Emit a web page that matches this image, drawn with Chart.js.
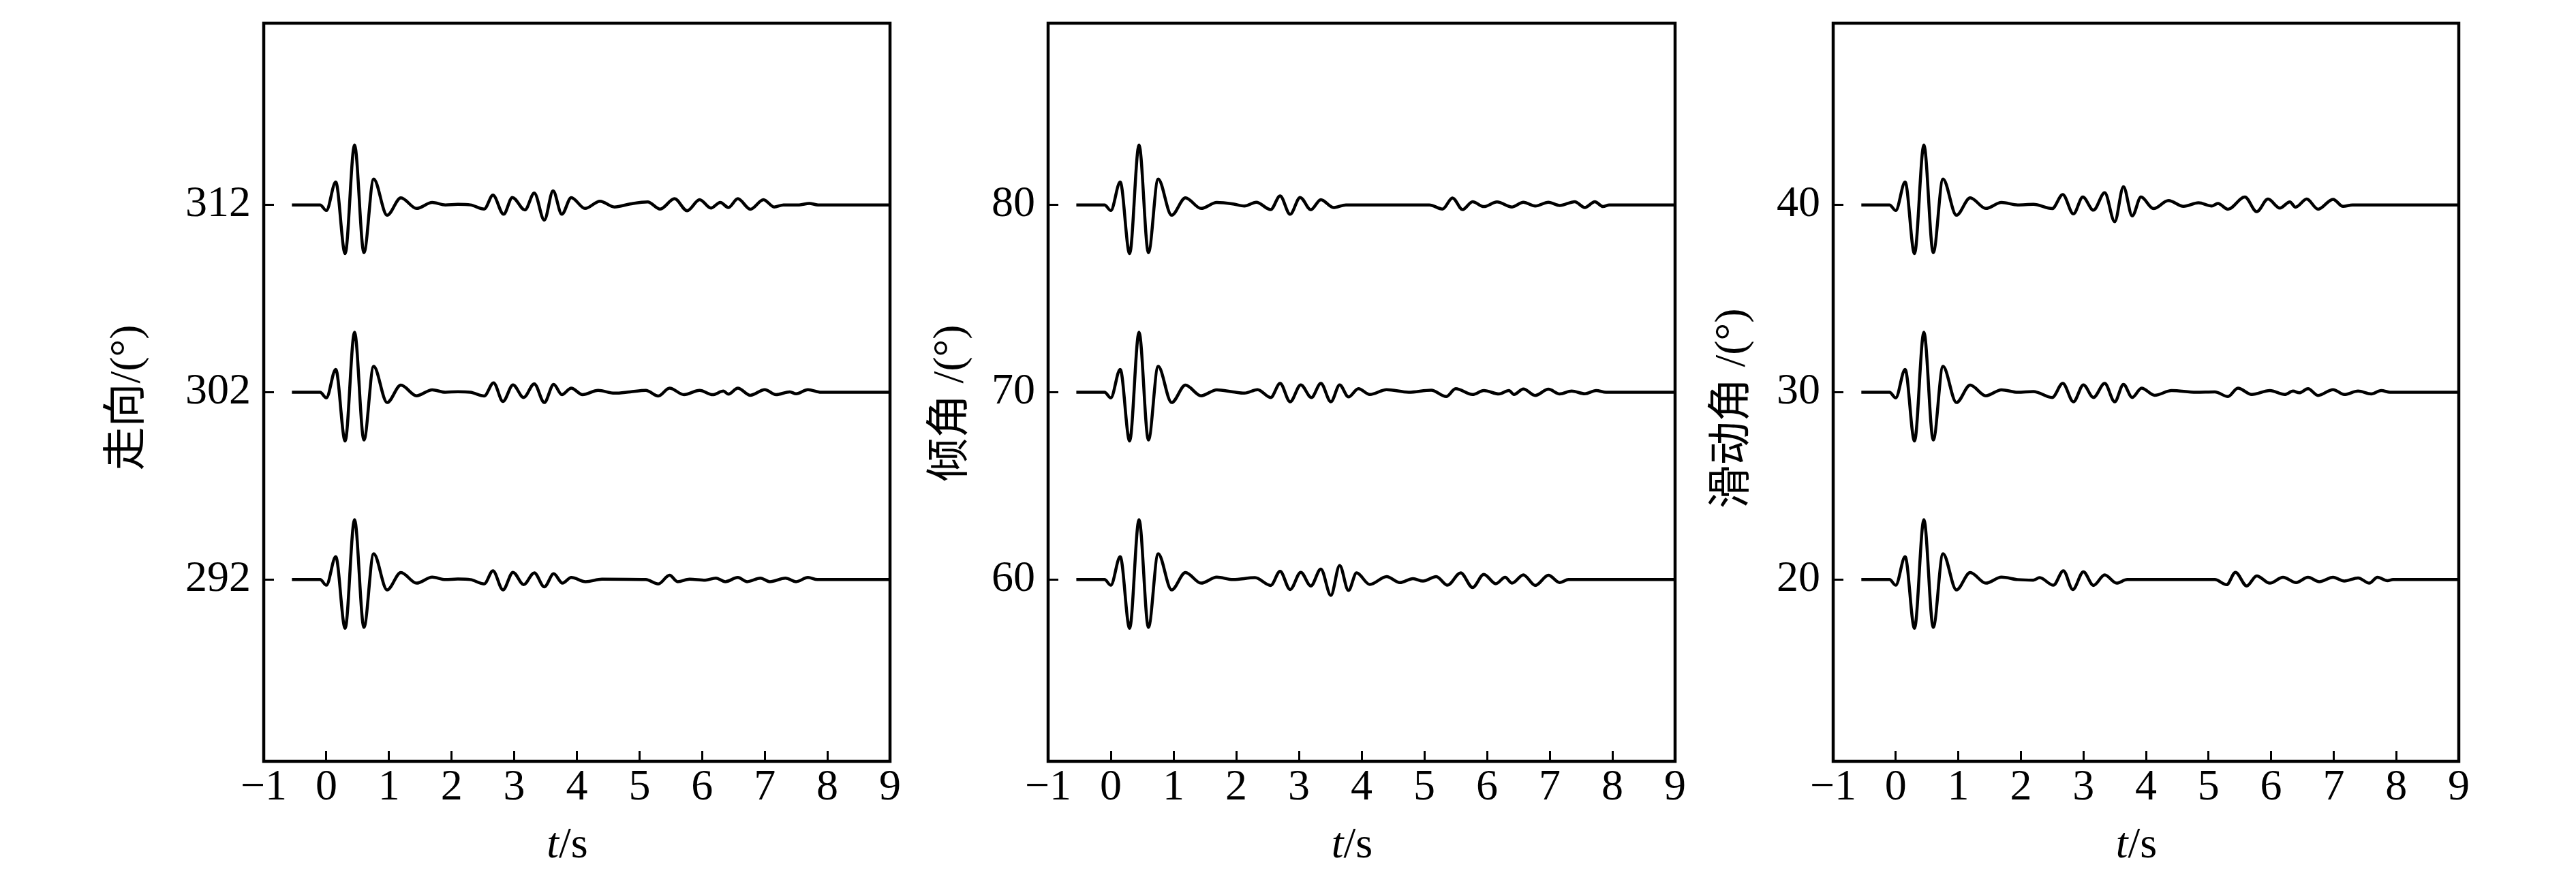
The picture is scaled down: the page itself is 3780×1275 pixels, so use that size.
<!DOCTYPE html>
<html>
<head>
<meta charset="utf-8">
<script src="https://cdn.jsdelivr.net/npm/chart.js@4.4.1/dist/chart.umd.min.js"></script>
<style>
  html, body { margin: 0; padding: 0; background: #fff; }
  body { width: 3780px; height: 1275px; position: relative; overflow: hidden; }
  .panel { position: absolute; top: 0; height: 1275px; }
</style>
</head>
<body>
<div class="panel" style="left:0;width:1330px"><canvas id="strikeChart"></canvas></div>
<div class="panel" style="left:1330px;width:1150px"><canvas id="dipChart"></canvas></div>
<div class="panel" style="left:2480px;width:1300px"><canvas id="rakeChart"></canvas></div>
<script>
// time axis
const xTicks = [-1, 0, 1, 2, 3, 4, 5, 6, 7, 8, 9];

// source wavelet shared by every trace (offset from the trace baseline)
const headT = [-0.55, -0.1, 0.0, 0.15, 0.30, 0.45, 0.60, 0.755, 0.97, 1.19, 1.44, 1.69];
const headA = [0, 0, -0.3, 1.22, -2.6, 3.2, -2.55, 1.38, -0.55, 0.38, -0.19, 0.13];

// strike panel
const strikeTicks = [292, 302, 312];
const strikeRange = [282.3, 321.7];
const strike312T = [1.9, 2.1, 2.3, 2.52, 2.66, 2.83, 2.97, 3.17, 3.32, 3.48, 3.62, 3.76, 3.91, 4.13, 4.37, 4.6, 4.85, 5.13, 5.33, 5.56, 5.76, 5.96, 6.14, 6.29, 6.42, 6.57, 6.77, 6.98, 7.15, 7.3, 7.55, 7.71, 7.85, 9];
const strike312A = [0, 0.03, 0, -0.22, 0.52, -0.5, 0.4, -0.27, 0.63, -0.81, 0.75, -0.5, 0.39, -0.19, 0.2, -0.11, 0.05, 0.16, -0.22, 0.33, -0.31, 0.28, -0.17, 0.13, -0.14, 0.33, -0.23, 0.28, -0.11, 0, 0, 0.08, 0, 0];
const strike302T = [1.9, 2.1, 2.3, 2.52, 2.67, 2.82, 2.98, 3.15, 3.32, 3.48, 3.63, 3.76, 3.91, 4.09, 4.34, 4.6, 4.85, 5.1, 5.3, 5.48, 5.71, 5.96, 6.17, 6.34, 6.42, 6.57, 6.77, 7.0, 7.18, 7.4, 7.5, 7.69, 7.9, 9];
const strike302A = [0, 0.03, 0, -0.2, 0.5, -0.49, 0.39, -0.28, 0.45, -0.55, 0.42, -0.13, 0.22, -0.13, 0.1, -0.05, 0.02, 0.1, -0.2, 0.22, -0.13, 0.1, -0.13, 0.06, -0.1, 0.22, -0.16, 0.14, -0.13, 0.02, -0.08, 0.14, 0, 0];
const strike292T = [1.9, 2.1, 2.3, 2.52, 2.66, 2.82, 2.98, 3.15, 3.32, 3.48, 3.63, 3.77, 3.91, 4.14, 4.4, 5.1, 5.3, 5.48, 5.61, 5.8, 6.05, 6.22, 6.37, 6.57, 6.72, 6.93, 7.08, 7.33, 7.5, 7.69, 7.84, 9];
const strike292A = [0, 0.03, 0, -0.23, 0.47, -0.55, 0.39, -0.27, 0.36, -0.39, 0.31, -0.19, 0.11, -0.11, 0.02, 0, -0.23, 0.23, -0.11, 0.02, -0.03, 0.08, -0.11, 0.11, -0.11, 0.08, -0.11, 0.08, -0.11, 0.11, 0, 0];

// dip panel
const dipTicks = [60, 70, 80];
const dipRange = [50.3, 89.7];
const dip80T = [1.95, 2.13, 2.32, 2.55, 2.70, 2.86, 3.02, 3.19, 3.35, 3.55, 3.75, 5.08, 5.29, 5.45, 5.61, 5.77, 5.95, 6.16, 6.4, 6.58, 6.77, 6.98, 7.16, 7.4, 7.56, 7.72, 7.85, 7.95, 9];
const dip80A = [0.05, -0.06, 0.14, -0.25, 0.48, -0.5, 0.4, -0.26, 0.28, -0.14, 0, 0, -0.22, 0.37, -0.25, 0.17, -0.09, 0.16, -0.11, 0.14, -0.06, 0.14, -0.03, 0.17, -0.14, 0.17, -0.09, 0, 0];
const dip70T = [1.95, 2.13, 2.34, 2.55, 2.70, 2.86, 3.03, 3.2, 3.35, 3.51, 3.65, 3.79, 3.95, 4.13, 4.4, 4.75, 5.11, 5.35, 5.5, 5.77, 5.95, 6.19, 6.35, 6.43, 6.58, 6.77, 6.98, 7.16, 7.35, 7.56, 7.74, 7.9, 9];
const dip70A = [0.02, -0.05, 0.14, -0.28, 0.47, -0.51, 0.39, -0.28, 0.47, -0.51, 0.39, -0.25, 0.19, -0.12, 0.14, 0, 0.11, -0.23, 0.19, -0.12, 0.09, -0.09, 0.09, -0.12, 0.17, -0.17, 0.16, -0.09, 0.06, -0.08, 0.09, 0, 0];
const dip60T = [1.95, 2.3, 2.55, 2.70, 2.86, 3.03, 3.19, 3.35, 3.51, 3.65, 3.79, 3.92, 4.13, 4.4, 4.61, 4.82, 4.98, 5.19, 5.37, 5.58, 5.77, 5.95, 6.14, 6.29, 6.4, 6.58, 6.77, 6.98, 7.16, 7.3, 9];
const dip60A = [0, 0.1, -0.31, 0.44, -0.53, 0.39, -0.34, 0.56, -0.84, 0.75, -0.58, 0.36, -0.26, 0.16, -0.16, 0.05, -0.08, 0.16, -0.3, 0.36, -0.42, 0.28, -0.22, 0.12, -0.19, 0.25, -0.31, 0.23, -0.16, 0, 0];

// rake panel
const rakeTicks = [20, 30, 40];
const rakeRange = [10.3, 49.7];
const rake40T = [1.95, 2.2, 2.5, 2.67, 2.84, 2.99, 3.16, 3.34, 3.5, 3.64, 3.78, 3.92, 4.12, 4.36, 4.6, 4.84, 5.05, 5.15, 5.31, 5.58, 5.77, 5.95, 6.14, 6.3, 6.39, 6.57, 6.75, 6.99, 7.15, 7.3, 9];
const rake40A = [0, 0.03, -0.2, 0.55, -0.48, 0.42, -0.28, 0.65, -0.9, 0.97, -0.59, 0.42, -0.2, 0.23, -0.08, 0.11, -0.06, 0.08, -0.23, 0.42, -0.36, 0.31, -0.17, 0.16, -0.12, 0.31, -0.23, 0.3, -0.08, 0, 0];
const rake30T = [1.95, 2.2, 2.5, 2.67, 2.84, 3.0, 3.16, 3.34, 3.5, 3.64, 3.78, 3.93, 4.14, 4.41, 4.8, 5.1, 5.31, 5.47, 5.69, 5.98, 6.22, 6.35, 6.45, 6.59, 6.75, 6.99, 7.17, 7.39, 7.6, 7.76, 7.9, 9];
const rake30A = [0, 0.04, -0.28, 0.47, -0.51, 0.39, -0.28, 0.47, -0.51, 0.42, -0.28, 0.22, -0.16, 0.09, 0, 0.02, -0.23, 0.22, -0.12, 0.09, -0.12, 0.06, -0.03, 0.19, -0.17, 0.14, -0.12, 0.06, -0.09, 0.09, 0, 0];
const rake20T = [1.95, 2.2, 2.3, 2.52, 2.68, 2.83, 3.0, 3.16, 3.34, 3.53, 3.7, 5.1, 5.29, 5.43, 5.61, 5.77, 5.98, 6.19, 6.4, 6.59, 6.77, 6.99, 7.17, 7.39, 7.57, 7.7, 7.86, 7.95, 9];
const rake20A = [0, -0.03, 0.1, -0.3, 0.47, -0.53, 0.41, -0.31, 0.25, -0.19, 0, 0, -0.27, 0.39, -0.34, 0.2, -0.19, 0.12, -0.16, 0.12, -0.11, 0.12, -0.08, 0.09, -0.19, 0.12, -0.06, 0, 0];

const FAMILY = "'Liberation Serif', 'Noto Sans CJK SC', serif";

// wavelet + tail, shifted to the trace baseline
function buildTrace(base, tailT, tailA) {
    const head = headT.map((t, i) => ({ x: t, y: base + headA[i] }));
    const tail = tailT.map((t, i) => ({ x: t, y: base + tailA[i] }));
    return head.concat(tail);
}

// box round the plot area
const framePlugin = {
    id: 'frame',
    afterDatasetsDraw(chart) {
        const { ctx, chartArea: a } = chart;
        ctx.save();
        ctx.strokeStyle = '#000';
        ctx.lineWidth = 4.5;
        ctx.strokeRect(a.left, a.top, a.right - a.left, a.bottom - a.top);
        ctx.restore();
    }
};

// "t/s" with italic t
const timeTitlePlugin = {
    id: 'timeTitle',
    afterDraw(chart) {
        const { ctx, chartArea: a } = chart;
        ctx.save();
        ctx.fillStyle = '#000';
        ctx.textBaseline = 'alphabetic';
        ctx.textAlign = 'left';
        ctx.font = 'italic 64px ' + FAMILY;
        const w1 = ctx.measureText('t').width;
        ctx.font = '64px ' + FAMILY;
        const w2 = ctx.measureText('/s').width;
        const x0 = (a.left + a.right) / 2 - 14 - (w1 + w2) / 2;
        const y = chart.scales.x.bottom - 17;
        ctx.font = 'italic 64px ' + FAMILY;
        ctx.fillText('t', x0, y);
        ctx.font = '64px ' + FAMILY;
        ctx.fillText('/s', x0 + w1, y);
        ctx.restore();
    }
};

const panels = [
    { id: 'strikeChart', title: '走向/(°) ', ticks: strikeTicks, range: strikeRange, yWidth: 387, titlePad: 156, padRight: 24,
      traces: [[312, strike312T, strike312A], [302, strike302T, strike302A], [292, strike292T, strike292A]] },
    { id: 'dipChart', title: '倾角 /(°)  ', ticks: dipTicks, range: dipRange, yWidth: 208, titlePad: 34, padRight: 22,
      traces: [[80, dip80T, dip80A], [70, dip70T, dip70A], [60, dip60T, dip60A]] },
    { id: 'rakeChart', title: '滑动角 /(°)   ', ticks: rakeTicks, range: rakeRange, yWidth: 210, titlePad: 31, padRight: 172,
      traces: [[40, rake40T, rake40A], [30, rake30T, rake30A], [20, rake20T, rake20A]] }
];

const tickGrid = {
    drawOnChartArea: false,
    drawTicks: true,
    tickLength: -15,
    tickWidth: 3,
    tickColor: '#000'
};

panels.forEach(p => {
    new Chart(document.getElementById(p.id), {
        type: 'line',
        data: {
            datasets: p.traces.map(([base, t, a]) => ({
                data: buildTrace(base, t, a),
                borderColor: '#000',
                borderWidth: 4.5,
                pointRadius: 0,
                fill: false,
                cubicInterpolationMode: 'monotone'
            }))
        },
        options: {
            responsive: true,
            maintainAspectRatio: false,
            animation: false,
            devicePixelRatio: 1,
            events: [],
            layout: { padding: { top: 34, right: p.padRight, bottom: 0, left: 0 } },
            plugins: { legend: { display: false }, tooltip: { enabled: false } },
            scales: {
                x: {
                    type: 'linear',
                    min: -1,
                    max: 9,
                    afterBuildTicks: s => { s.ticks = xTicks.map(v => ({ value: v })); },
                    afterFit: s => { s.height = 158; s.paddingLeft = 0; s.paddingRight = 0; },
                    grid: tickGrid,
                    border: { display: false },
                    ticks: {
                        color: '#000',
                        padding: 22,
                        autoSkip: false,
                        maxRotation: 0,
                        font: { family: FAMILY, size: 64, lineHeight: 1 },
                        callback: v => v < 0 ? '\u2212' + Math.abs(v) : String(v)
                    }
                },
                y: {
                    min: p.range[0],
                    max: p.range[1],
                    afterBuildTicks: s => { s.ticks = p.ticks.map(v => ({ value: v })); },
                    afterFit: s => { s.width = p.yWidth; s.paddingTop = 0; s.paddingBottom = 0; },
                    grid: tickGrid,
                    border: { display: false },
                    ticks: {
                        color: '#000',
                        padding: 34,
                        font: { family: FAMILY, size: 64, lineHeight: 1 }
                    },
                    title: {
                        display: true,
                        text: p.title,
                        color: '#000',
                        font: { family: FAMILY, size: 64, lineHeight: 1 },
                        padding: { top: p.titlePad, bottom: 0 }
                    }
                }
            }
        },
        plugins: [framePlugin, timeTitlePlugin]
    });
});
</script>
</body>
</html>
